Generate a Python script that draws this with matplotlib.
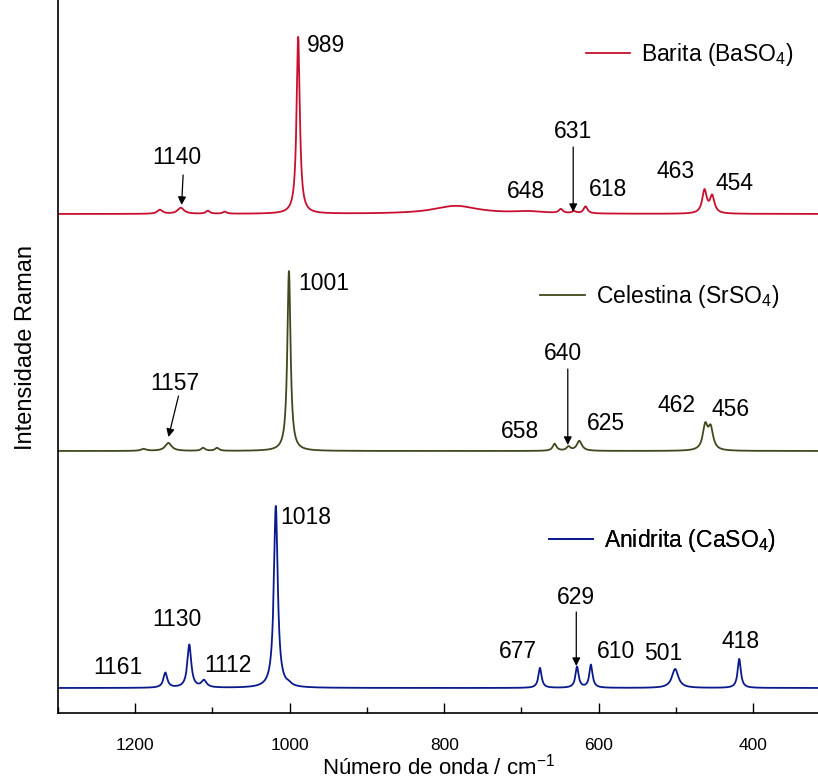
import numpy as np
import matplotlib
matplotlib.use("Agg")
import matplotlib.pyplot as plt
from matplotlib.ticker import MultipleLocator
from matplotlib.lines import Line2D

plt.rcParams['font.family'] = ['Liberation Sans', 'DejaVu Sans']
plt.rcParams['mathtext.fontset'] = 'custom'
plt.rcParams['mathtext.rm'] = 'Liberation Sans'
plt.rcParams['mathtext.it'] = 'Liberation Sans:italic'

# ---- data: Raman peak parameters ----
# Barita (BaSO4)
ba_pos = [1168, 1141, 1106, 1084, 989, 785, 690, 649, 632, 617, 463, 453]
ba_hgt = [4, 6, 3, 2, 177, 8, 2, 4, 2, 7, 23, 17]
ba_wid = [4, 5, 3, 3, 2.5, 35, 25, 3, 3, 3, 3.5, 3.5]
ba_offset = 499

# Celestina (SrSO4)
sr_pos = [1189, 1157, 1112, 1094, 1001, 657, 639, 625, 462, 455]
sr_hgt = [2, 8, 3, 3, 180, 7, 4, 10, 24, 21]
sr_wid = [4, 5, 3, 3, 2.5, 3, 3, 4, 3.8, 3.8]
sr_offset = 262

# Anidrita (CaSO4)
ca_pos = [1161, 1130, 1111, 1001, 1018, 676, 628, 610, 501, 418]
ca_hgt = [15, 43, 7, 2, 182, 20, 21, 23, 19, 29]
ca_wid = [3, 3, 4, 4, 3, 2.5, 2.5, 2.5, 5, 2.5]
ca_offset = 25

# Annotations: (label, text x, text y) and arrows (x0, y0, x1, y1)
ba_ann = [("989", 953, 667), ("1140", 1146, 555), ("648", 694, 521),
          ("631", 633, 582), ("618", 588, 523), ("463", 500, 541), ("454", 424, 529)]
ba_arrows = [(1138, 538, 1140, 508), (633, 566, 633, 501)]
sr_ann = [("1001", 956, 429), ("1157", 1149, 330), ("658", 702, 282),
          ("640", 646, 360), ("625", 591, 289), ("462", 499, 307), ("456", 429, 304)]
sr_arrows = [(1144, 317, 1157, 276), (640, 344, 640, 268)]
ca_ann = [("1018", 979, 195), ("1161", 1223, 46), ("1130", 1146, 94),
          ("1112", 1080, 47), ("677", 704, 62), ("629", 629, 115),
          ("610", 578, 61), ("501", 516, 59), ("418", 416, 72)]
ca_arrows = [(629, 101, 629, 47)]

labels = ["Barita (BaSO$_\\mathregular{4}$)", "Celestina (SrSO$_\\mathregular{4}$)",
          "Anidrita (CaSO$_\\mathregular{4}$)"]
colors = ["#C8102E", "#3E4A1E", "#0A1A8C"]

x = np.linspace(300, 1310, 6000)


def spectrum(pos, hgt, wid, off):
    y = np.full_like(x, off, dtype=float)
    for p, h, w in zip(pos, hgt, wid):
        y += h / (1 + ((x - p) / w) ** 2)
    return y


fig = plt.figure(figsize=(8.18, 7.82), dpi=100)
ax = fig.add_axes([58 / 818, 69 / 782, 1 - 58 / 818 + 0.001, 713 / 782])

sets = [(ba_pos, ba_hgt, ba_wid, ba_offset, ba_ann, ba_arrows),
        (sr_pos, sr_hgt, sr_wid, sr_offset, sr_ann, sr_arrows),
        (ca_pos, ca_hgt, ca_wid, ca_offset, ca_ann, ca_arrows)]

FS = 16.5
lines = []
for (pos, hgt, wid, off, ann, arr), c in zip(sets, colors):
    ln, = ax.plot(x, spectrum(pos, hgt, wid, off), color=c, lw=1.3)
    lines.append(ln)
    for t, tx, ty in ann:
        ax.text(tx, ty, t, fontsize=FS, ha='center', va='center', color='black')
    for x0, y0, x1, y1 in arr:
        ax.annotate("", xy=(x1, y1), xytext=(x0, y0),
                    arrowprops=dict(arrowstyle='-|>', color='black', lw=0.9,
                                    mutation_scale=12, shrinkA=0, shrinkB=0))

ax.set_xlim(1300, 315)
ax.set_ylim(0, 713)

leg_pos = [(0.6937, 0.924), (0.634, 0.5835), (0.645, 0.2426)]
for ln, lab, (bx, by) in zip(lines, labels, leg_pos):
    h = Line2D([], [], color=ln.get_color(), lw=1.3)
    leg = ax.legend([h], [lab], loc='center left', bbox_to_anchor=(bx, by),
                    frameon=False, fontsize=FS, handlelength=1.95,
                    handletextpad=0.48, borderpad=0, borderaxespad=0)
    ax.add_artist(leg)

ax.spines['top'].set_visible(False)
ax.spines['right'].set_visible(False)
ax.spines['left'].set_linewidth(1.2)
ax.spines['bottom'].set_linewidth(1.2)
ax.set_yticks([])
ax.xaxis.set_major_locator(MultipleLocator(200))
ax.xaxis.set_minor_locator(MultipleLocator(100))
ax.tick_params(axis='x', which='major', direction='in', length=7, width=1, labelsize=12.5, pad=18)
ax.tick_params(axis='x', which='minor', direction='in', length=4, width=1)

ax.set_xlabel("Número de onda / cm$^{-1}$", fontsize=16, va='baseline')
ax.xaxis.set_label_coords(0.5, -0.0865)
ax.set_ylabel("Intensidade Raman", fontsize=17)
ax.yaxis.set_label_coords(-0.027, 0.512)

fig.savefig("out.png", dpi=100)
